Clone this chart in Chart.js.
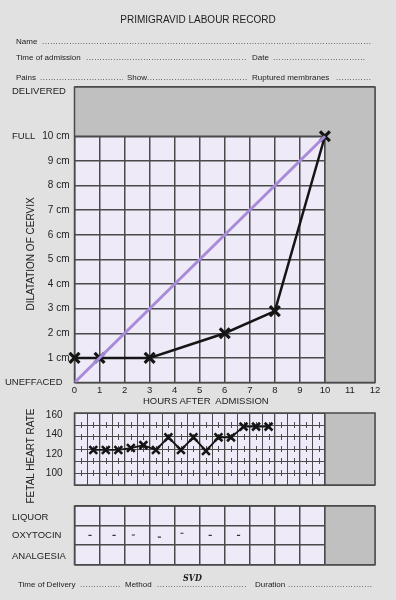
<!DOCTYPE html>
<html lang="en">
<head>
<meta charset="UTF-8">
<title>Primigravid Labour Record</title>
<script src="https://cdn.jsdelivr.net/npm/chart.js"></script>
<style>
  body { margin: 0; background: #e1e1e1; font-family: 'Liberation Sans', Arial, sans-serif; color: #222; }
  .page { position: relative; width: 396px; height: 600px; overflow: hidden; }
  .page canvas { position: absolute; left: 0; }
  .t { position: absolute; font-size: 8px; line-height: 12px; white-space: pre; }
  .dots { position: absolute; font-size: 8px; line-height: 12px; white-space: nowrap; overflow: hidden; letter-spacing: 0.5px; }
  .lbl { position: absolute; font-size: 9.5px; line-height: 12px; white-space: pre; }
  .rot { position: absolute; font-size: 10px; white-space: nowrap; transform: translate(-50%, -50%) rotate(-90deg); }
  .title { position: absolute; left: 0; width: 396px; text-align: center; font-size: 10px; line-height: 12px; }
  .svd { position: absolute; font-family: 'DejaVu Serif', serif; font-style: italic; font-weight: bold; font-size: 10px; line-height: 12px; transform: scaleX(0.8); transform-origin: left; }
</style>
</head>
<body>
<div class="page">
  <canvas id="cervix" width="396" height="410" style="top:0"></canvas>
  <canvas id="fhr" width="396" height="95" style="top:400px"></canvas>
  <canvas id="drugs" width="396" height="70" style="top:500px"></canvas>

  <!-- header form -->
  <div class="title" style="top:14px">PRIMIGRAVID LABOUR RECORD</div>
  <div class="t" style="left:16px; top:35.5px">Name</div>
  <div class="dots" style="left:42px; top:35.5px; width:330px"></div>
  <div class="t" style="left:16px; top:52px">Time of admission</div>
  <div class="dots" style="left:86px; top:52px; width:160px"></div>
  <div class="t" style="left:252px; top:52px">Date</div>
  <div class="dots" style="left:273px; top:52px; width:92px"></div>
  <div class="t" style="left:16px; top:72px">Pains</div>
  <div class="dots" style="left:40px; top:72px; width:83px"></div>
  <div class="t" style="left:127px; top:72px">Show</div>
  <div class="dots" style="left:147px; top:72px; width:100px"></div>
  <div class="t" style="left:252px; top:72px">Ruptured membranes</div>
  <div class="dots" style="left:336px; top:72px; width:36px"></div>

  <!-- partogram labels -->
  <div class="lbl" style="left:12px; top:85px">DELIVERED</div>
  <div class="lbl" style="left:12px; top:130px">FULL</div>
  <div class="lbl" style="left:5px; top:376px">UNEFFACED</div>
  <div class="rot" style="left:29.5px; top:254px">DILATATION OF CERVIX</div>
  <div class="lbl" style="left:143px; top:395px">HOURS AFTER  ADMISSION</div>
  <div class="rot" style="left:29.5px; top:456px">FETAL HEART RATE</div>

  <div class="lbl" style="left:12px; top:511px">LIQUOR</div>
  <div class="lbl" style="left:12px; top:529px">OXYTOCIN</div>
  <div class="lbl" style="left:12px; top:550px">ANALGESIA</div>

  <!-- footer -->
  <div class="t" style="left:18px; top:579px">Time of Delivery</div>
  <div class="dots" style="left:80px; top:579px; width:40px"></div>
  <div class="t" style="left:125px; top:579px">Method</div>
  <div class="dots" style="left:157px; top:579px; width:90px"></div>
  <div class="svd" style="left:183px; top:572px">SVD</div>
  <div class="t" style="left:255px; top:579px">Duration</div>
  <div class="dots" style="left:288px; top:579px; width:85px"></div>
</div>

<script>
  // cervical dilatation (cm) against hours after admission
  const hours = [0, 1, 3, 6, 8, 10];
  const dilation = [1, 1, 1, 2, 2.9, 10];
  const alertHours = [0, 10];
  const alertDilation = [0, 10];

  // fetal heart rate readings
  const fhrHours = [0.75, 1.25, 1.75, 2.25, 2.75, 3.25, 3.75, 4.25, 4.75, 5.25, 5.75, 6.25, 6.75, 7.25, 7.75];
  const fhrRate = [124, 124, 124, 126, 129, 124, 137, 124, 137, 123, 137, 137, 148, 148, 148];
  const fhrTicks = [100, 120, 140, 160];

  // oxytocin dashes (row position 0..3)
  const oxyHours = [0.62, 1.58, 2.35, 3.39, 4.29, 5.42, 6.55];
  const oxyLevel = [1.5, 1.5, 1.52, 1.41, 1.61, 1.5, 1.5];

  const LAVENDER = '#efeaf8';
  const GREY = '#c0c0c0';
  const LINE = '#4a4a4a';
  const INK = '#151515';

  Chart.defaults.font.family = "'Liberation Sans', Arial, sans-serif";
  Chart.defaults.color = '#222';

  document.querySelectorAll('.dots').forEach(d => d.textContent = '.'.repeat(200));

  const pts = (xs, ys) => xs.map((x, i) => ({ x: x, y: ys[i] }));

  // lavender sheet, grey shading past 10 h (and above full dilatation)
  function sheet(withTop, extra) {
    return {
      id: 'sheet',
      beforeDraw(chart) {
        const { ctx, chartArea: a } = chart;
        ctx.save();
        ctx.fillStyle = LAVENDER;
        ctx.fillRect(a.left, a.top, a.width, a.height);
        ctx.restore();
      },
      beforeDatasetsDraw(chart) {
        const { ctx, chartArea: a, scales } = chart;
        const x10 = scales.x.getPixelForValue(10);
        let yTop = a.top;
        ctx.save();
        ctx.fillStyle = GREY;
        ctx.fillRect(x10, a.top, a.right - x10, a.height);
        if (withTop) {
          yTop = scales.y.getPixelForValue(10);
          ctx.fillRect(a.left, a.top, a.width, yTop - a.top);
        }
        ctx.strokeStyle = LINE;
        ctx.lineWidth = 1.5;
        ctx.beginPath();
        ctx.moveTo(x10, yTop);
        ctx.lineTo(x10, a.bottom);
        if (withTop) {
          ctx.moveTo(a.left, yTop);
          ctx.lineTo(x10, yTop);
        }
        ctx.stroke();
        ctx.strokeRect(a.left, a.top, a.width, a.height);
        if (extra) extra(chart, ctx, x10);
        ctx.restore();
      }
    };
  }

  // main partogram
  new Chart(document.getElementById('cervix'), {
    type: 'scatter',
    data: {
      datasets: [{
        data: pts(alertHours, alertDilation),
        showLine: true,
        borderColor: '#a88bd9',
        borderWidth: 3,
        pointRadius: 0
      }, {
        data: pts(hours, dilation),
        showLine: true,
        clip: false,
        borderColor: INK,
        borderWidth: 2.5,
        pointStyle: 'crossRot',
        pointRadius: 7,
        pointBorderWidth: 3.2,
        pointBorderColor: INK
      }]
    },
    options: {
      responsive: false,
      animation: false,
      devicePixelRatio: 1,
      layout: { padding: { top: 87, right: 21, left: 0, bottom: 0 } },
      plugins: { legend: { display: false }, tooltip: { enabled: false } },
      scales: {
        x: {
          min: 0, max: 12,
          ticks: { stepSize: 1, padding: 2, font: { size: 9.5 } },
          grid: { color: LINE, lineWidth: 1.5, drawTicks: false },
          border: { display: false },
          afterFit: s => { s.height = 27.5; }
        },
        y: {
          min: 0, max: 12,
          ticks: {
            stepSize: 1, padding: 5, font: { size: 10 },
            callback: v => (v >= 1 && v <= 10) ? v + ' cm' : ''
          },
          grid: { color: LINE, lineWidth: 1.5, drawTicks: false },
          border: { display: false },
          afterFit: s => { s.width = 74.5; }
        }
      }
    },
    plugins: [sheet(true)]
  });

  // fetal heart rate
  const rateMin = 88, rateMax = 162;
  new Chart(document.getElementById('fhr'), {
    type: 'scatter',
    data: {
      datasets: [{
        data: pts(fhrHours, fhrRate),
        showLine: true,
        borderColor: INK,
        borderWidth: 1.8,
        pointStyle: 'crossRot',
        pointRadius: 5.5,
        pointBorderWidth: 2.6,
        pointBorderColor: INK
      }]
    },
    options: {
      responsive: false,
      animation: false,
      devicePixelRatio: 1,
      layout: { padding: { top: 13, right: 0, left: 0, bottom: 0 } },
      plugins: { legend: { display: false }, tooltip: { enabled: false } },
      scales: {
        x: {
          min: 0, max: 12,
          ticks: { stepSize: 0.5, display: false },
          grid: { color: LINE, lineWidth: c => c.tick.value % 1 === 0 ? 1.3 : 1, drawTicks: false },
          border: { display: false },
          afterFit: s => { s.height = 8; }
        },
        y: {
          position: 'left',
          min: rateMin, max: rateMax,
          afterBuildTicks: s => { s.ticks = fhrTicks.map(v => ({ value: v })); },
          ticks: { padding: 4, font: { size: 10 } },
          grid: { display: false },
          border: { display: false },
          afterFit: s => { s.width = 74.5; }
        },
        yg: {
          position: 'right',
          min: rateMin, max: rateMax,
          afterBuildTicks: s => {
            s.ticks = [0, 1, 2, 3, 4, 5, 6].map(k => ({ value: rateMin + k * (rateMax - rateMin) / 6 }));
          },
          ticks: { display: false },
          grid: { color: LINE, lineWidth: 1, drawTicks: false },
          border: { display: false },
          afterFit: s => { s.width = 21; }
        }
      }
    },
    plugins: [sheet(false, (chart, ctx) => {
      // small quarter-hour marks on the inner rate lines
      const { x, yg } = chart.scales;
      ctx.lineWidth = 1;
      ctx.beginPath();
      yg.ticks.slice(1, -1).forEach(t => {
        const py = yg.getPixelForValue(t.value);
        for (let h = 0.25; h < 10; h += 0.5) {
          const px = Math.round(x.getPixelForValue(h)) + 0.5;
          ctx.moveTo(px, py - 3);
          ctx.lineTo(px, py + 3);
        }
      });
      ctx.stroke();
    })]
  });

  // liquor / oxytocin / analgesia table
  new Chart(document.getElementById('drugs'), {
    type: 'scatter',
    data: {
      datasets: [{
        data: pts(oxyHours, oxyLevel),
        pointStyle: 'line',
        pointRadius: 1.6,
        pointBorderWidth: 1.2,
        pointBorderColor: '#333'
      }]
    },
    options: {
      responsive: false,
      animation: false,
      devicePixelRatio: 1,
      layout: { padding: { top: 6, right: 21, left: 0, bottom: 0 } },
      plugins: { legend: { display: false }, tooltip: { enabled: false } },
      scales: {
        x: {
          min: 0, max: 12,
          ticks: { stepSize: 1, display: false },
          grid: { color: LINE, lineWidth: 1.5, drawTicks: false },
          border: { display: false },
          afterFit: s => { s.height = 4.3; }
        },
        y: {
          min: 0, max: 3,
          ticks: { stepSize: 1, display: false },
          grid: { color: LINE, lineWidth: 1.5, drawTicks: false },
          border: { display: false },
          afterFit: s => { s.width = 74.5; }
        }
      }
    },
    plugins: [sheet(false)]
  });
</script>
</body>
</html>
